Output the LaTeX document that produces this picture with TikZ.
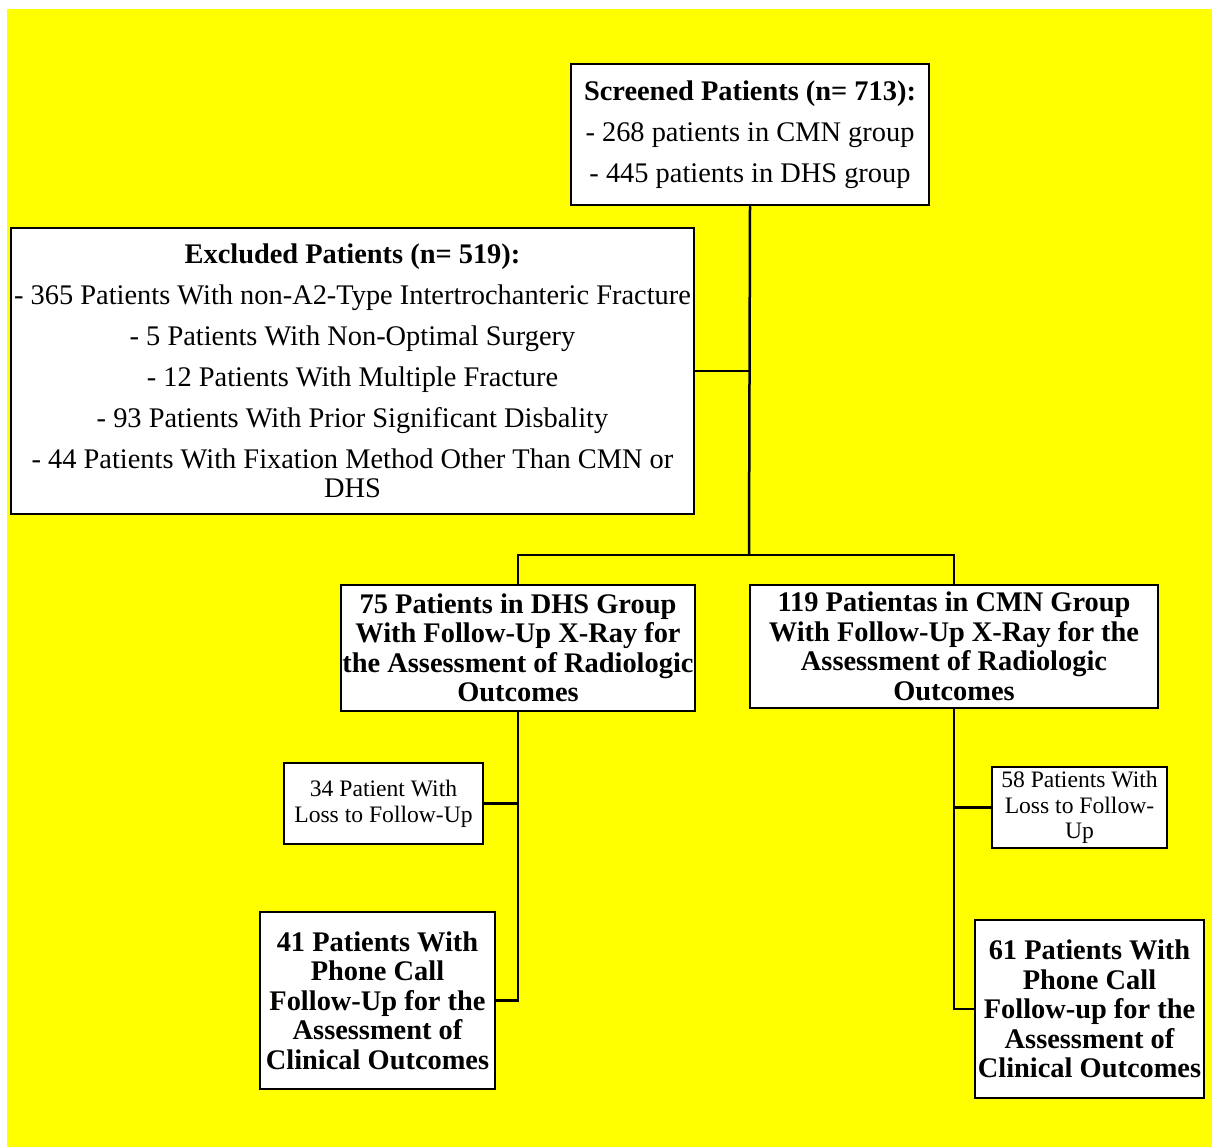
\documentclass[tikz,border=0pt]{standalone}
\usepackage{fontspec}
\setmainfont{Liberation Serif}
\definecolor{bgyellow}{RGB}{255,255,0}
\begin{document}
\begin{tikzpicture}[x=1pt,y=-1pt,
  box/.style={draw=black,line width=2.5pt,fill=white,inner sep=0pt,align=center},
  bigtxt/.style={font=\fontsize{28.4}{29.5}\selectfont},
  boldtxt/.style={font=\fontsize{28.4}{29.5}\selectfont\bfseries},
  smalltxt/.style={font=\fontsize{23.6}{25.7}\selectfont},
  conn/.style={draw=black,line width=2.5pt}]
\useasboundingbox (0,0) rectangle (1212,1147);
\fill[bgyellow] (7,9) rectangle (1212,1147);

\node[box,bigtxt,minimum width=358,minimum height=141] (scr) at (750,134.5)
  {\textbf{Screened Patients (n= 713):}\\[11.5pt]- 268 patients in CMN group\\[11.5pt]- 445 patients in DHS group};

\node[box,bigtxt,minimum width=683,minimum height=286] (exc) at (352.5,371)
  {\textbf{Excluded Patients (n= 519):}\\[11.5pt]- 365 Patients With non-A2-Type Intertrochanteric Fracture\\[11.5pt]- 5 Patients With Non-Optimal Surgery\\[11.5pt]- 12 Patients With Multiple Fracture\\[11.5pt]- 93 Patients With Prior Significant Disbality\\[11.5pt]- 44 Patients With Fixation Method Other Than CMN or\\DHS};

\node[box,boldtxt,minimum width=354,minimum height=126] (dhs) at (518,648)
  {75 Patients in DHS Group\\With Follow-Up X-Ray for\\the Assessment of Radiologic\\Outcomes};

\node[box,boldtxt,minimum width=408,minimum height=123] (cmn) at (954,646.5)
  {119 Patientas in CMN Group\\With Follow-Up X-Ray for the\\Assessment of Radiologic\\Outcomes};

\node[box,smalltxt,minimum width=199,minimum height=81] (l34) at (383.5,803.5)
  {34 Patient With\\Loss to Follow-Up};

\node[box,boldtxt,minimum width=235,minimum height=177] (p41) at (377.5,1000.5)
  {41 Patients With\\Phone Call\\Follow-Up for the\\Assessment of\\Clinical Outcomes};

\node[box,smalltxt,minimum width=175,minimum height=81] (l58) at (1079.5,807.5)
  {58 Patients With\\Loss to Follow-\\Up};

\node[box,boldtxt,minimum width=229,minimum height=178] (p61) at (1089.5,1009)
  {61 Patients With\\Phone Call\\Follow-up for the\\Assessment of\\Clinical Outcomes};

\coordinate (bus) at (749,555);
\draw[conn] (scr.south) -- (bus);
\draw[conn] (exc.east) -- (exc.east -| bus);
\draw[conn] (dhs.north) |- (bus) -| (cmn.north);
\draw[conn] (dhs.south) |- (p41.east);
\draw[conn] (l34.east) -- (l34.east -| dhs.south);
\draw[conn] (cmn.south) |- (p61.west);
\draw[conn] (l58.west) -- (l58.west -| cmn.south);
\end{tikzpicture}
\end{document}
